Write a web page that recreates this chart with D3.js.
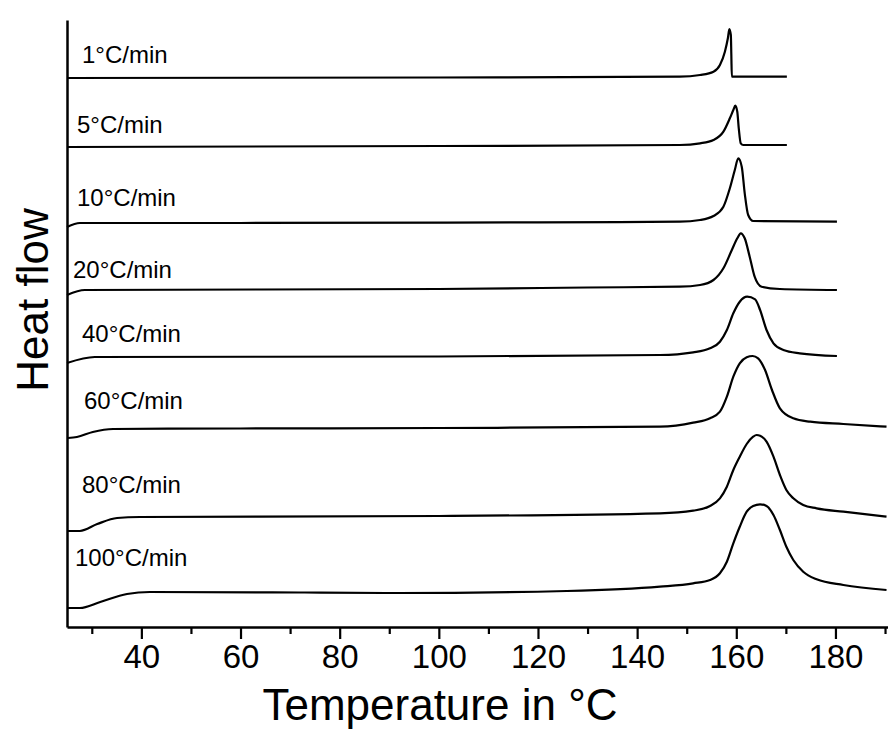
<!DOCTYPE html>
<html>
<head>
<meta charset="utf-8">
<script src="https://cdn.jsdelivr.net/npm/d3@7"></script>
<style>
  body { margin: 0; background: #fff; }
  svg { display: block; font-family: "Liberation Sans", Arial, sans-serif; }
</style>
</head>
<body>
<div id="chart"></div>
<script>
// heating rates, top to bottom
var rates = ['1°C/min', '5°C/min', '10°C/min', '20°C/min', '40°C/min', '60°C/min', '80°C/min', '100°C/min'];

// temperature (°C) and stacked heat flow (a.u.)
var temp1 = [25, 100, 148.6, 152.7, 155.4, 156.7, 157.7, 158.3, 158.6, 158.9, 159.0, 159.1, 170.2];
var flow1 = [549, 549.5, 550.3, 552, 555.3, 562, 575.3, 588.7, 598, 592, 572, 550.3, 550.3];

var temp5 = [25, 100, 148.6, 152.7, 155.4, 157.4, 158.7, 159.4, 159.8, 160.2, 160.5, 160.9, 161.4, 170.2];
var flow5 = [480, 481, 482, 483.7, 487, 495.3, 508.7, 517, 521.3, 515.3, 498.7, 483.7, 482, 482];

var temp10 = [25, 27.6, 60, 120, 148.6, 152.7, 155.4, 157.4, 158.7, 159.7, 160.4, 161.1, 161.7, 162.4, 163.4, 180.3];
var flow10 = [400, 404, 404, 404.7, 405.3, 407, 411, 420.3, 438.7, 457, 468.7, 460.3, 433.7, 412, 406, 405.3];

var temp20 = [25, 28.6, 100, 130, 148.6, 152.7, 155.4, 157.4, 159.1, 160.2, 160.9, 161.7, 162.7, 163.7, 165.1, 168.8, 180.3];
var flow20 = [332, 337, 338, 339.5, 340.3, 342, 347, 358.7, 377, 388.7, 393.7, 388.7, 370.3, 350.3, 340.3, 338, 337];

var temp40 = [25, 30.6, 100, 144.6, 151.3, 154.7, 156.7, 158.1, 159.4, 160.7, 162.2, 163.8, 164.8, 166.1, 167.5, 169.5, 172.8, 180.3];
var flow40 = [264, 270, 270.5, 272, 274.7, 278.7, 285.3, 297, 313.7, 325.3, 330.3, 327.7, 317, 297, 283.7, 277, 273.7, 271];

var temp60 = [25.2, 27, 30.2, 34.3, 60, 100, 144.6, 151.3, 154.7, 156.7, 158.1, 159.4, 160.7, 162.1, 163.3, 164.4, 165.8, 167.2, 168.8, 171.5, 174.9, 181.6, 190.3];
var flow60 = [189, 190, 195, 198, 198.5, 199, 200.3, 204.3, 208.7, 215.3, 230.3, 250.3, 263.7, 269.7, 271, 268.7, 257, 237, 218.7, 208.7, 205.3, 203, 200.3];

var temp80 = [25.2, 27.6, 31.1, 35.1, 39.7, 100, 144.6, 151.3, 154.7, 156.7, 158.1, 159.4, 160.7, 162.1, 163.4, 164.1, 164.8, 166.1, 167.5, 168.8, 170.1, 171.5, 173.5, 176.2, 181.6, 190.3];
var flow80 = [96, 96, 103, 109, 110, 111, 113.7, 116.3, 121, 128.7, 140.3, 157, 170.3, 183, 190.3, 192, 191.3, 185.3, 170.3, 152, 137, 128.7, 122, 118.7, 115.3, 110.3];

var temp100 = [25.2, 27.6, 31.7, 37.1, 41.7, 72, 92, 125.8, 144.6, 151.3, 154.7, 156.7, 158.1, 159.4, 160.7, 162.1, 163.4, 164.8, 166.1, 167.5, 168.8, 170.1, 171.5, 173.5, 176.2, 181.6, 190.3];
var flow100 = [19, 19, 25, 33, 35, 34.5, 34, 36, 40.3, 43.7, 47, 53.7, 65.3, 83.7, 100.3, 115.3, 121, 122.7, 121, 112, 97, 80.3, 67, 55.3, 47.7, 42, 37];

var temps = [temp1, temp5, temp10, temp20, temp40, temp60, temp80, temp100];
var flows = [flow1, flow5, flow10, flow20, flow40, flow60, flow80, flow100];

var majorTicks = [40, 60, 80, 100, 120, 140, 160, 180];
var minorTicks = [30, 50, 70, 90, 110, 130, 150, 170, 190];

// label placement (pixels, left edge and baseline)
var labelX = [82, 77, 77, 73, 82, 84, 82, 75];
var labelY = [63, 133, 206, 278, 342, 409, 493, 566];

var svgWidth = 888;
var svgHeight = 731;
var padLeft = 67, padRight = 888, padTop = 20, padBottom = 627;

var svg = d3.select('#chart')
    .append('svg')
    .attr('width', svgWidth)
    .attr('height', svgHeight);

svg.append('rect').attr('width', svgWidth).attr('height', svgHeight).attr('fill', '#fff');

var xScale = d3.scaleLinear()
    .domain([25, 190.6])
    .range([padLeft, padRight]);

var yScale = d3.scaleLinear()
    .domain([0, 607])
    .range([padBottom, padTop]);

var line = d3.line()
    .x(d => xScale(d[0]))
    .y(d => yScale(d[1]))
    .curve(d3.curveMonotoneX);

// curves
rates.forEach((r, i) => {
    var pts = temps[i].map((t, j) => [t, flows[i][j]]);
    svg.append('path')
        .datum(pts)
        .attr('d', line)
        .attr('fill', 'none')
        .attr('stroke', '#000')
        .attr('stroke-width', 2.2)
        .attr('stroke-linejoin', 'round');

    svg.append('text')
        .attr('x', labelX[i])
        .attr('y', labelY[i])
        .attr('font-size', 24)
        .text(r);
});

// X axis, major and minor ticks
var xAxis = svg.append('g')
    .attr('transform', 'translate(0,' + padBottom + ')')
    .call(d3.axisBottom(xScale).tickValues(majorTicks).tickSize(12).tickSizeOuter(0).tickPadding(6));

svg.append('g')
    .attr('transform', 'translate(0,' + padBottom + ')')
    .call(d3.axisBottom(xScale).tickValues(minorTicks).tickSize(7).tickFormat('').tickSizeOuter(0))
    .select('.domain').remove();

xAxis.attr('font-size', 33).attr('font-family', '"Liberation Sans", Arial, sans-serif');
xAxis.selectAll('text').attr('fill', '#000');

// Y axis, line only
svg.append('g')
    .attr('transform', 'translate(' + padLeft + ',0)')
    .call(d3.axisLeft(yScale).tickValues([]).tickSizeOuter(0));

svg.selectAll('.domain').attr('stroke', '#000').attr('stroke-width', 2.5);
svg.selectAll('.tick line').attr('stroke', '#000').attr('stroke-width', 2.2);

// Title on the X-axis
svg.append('text')
    .attr('x', 440)
    .attr('y', 720)
    .attr('font-size', 44)
    .style('text-anchor', 'middle')
    .text('Temperature in °C');

// Title on the Y-axis
svg.append('text')
    .attr('transform', 'rotate(-90)')
    .attr('x', -300)
    .attr('y', 48)
    .attr('font-size', 44)
    .style('text-anchor', 'middle')
    .text('Heat flow');
</script>
</body>
</html>
